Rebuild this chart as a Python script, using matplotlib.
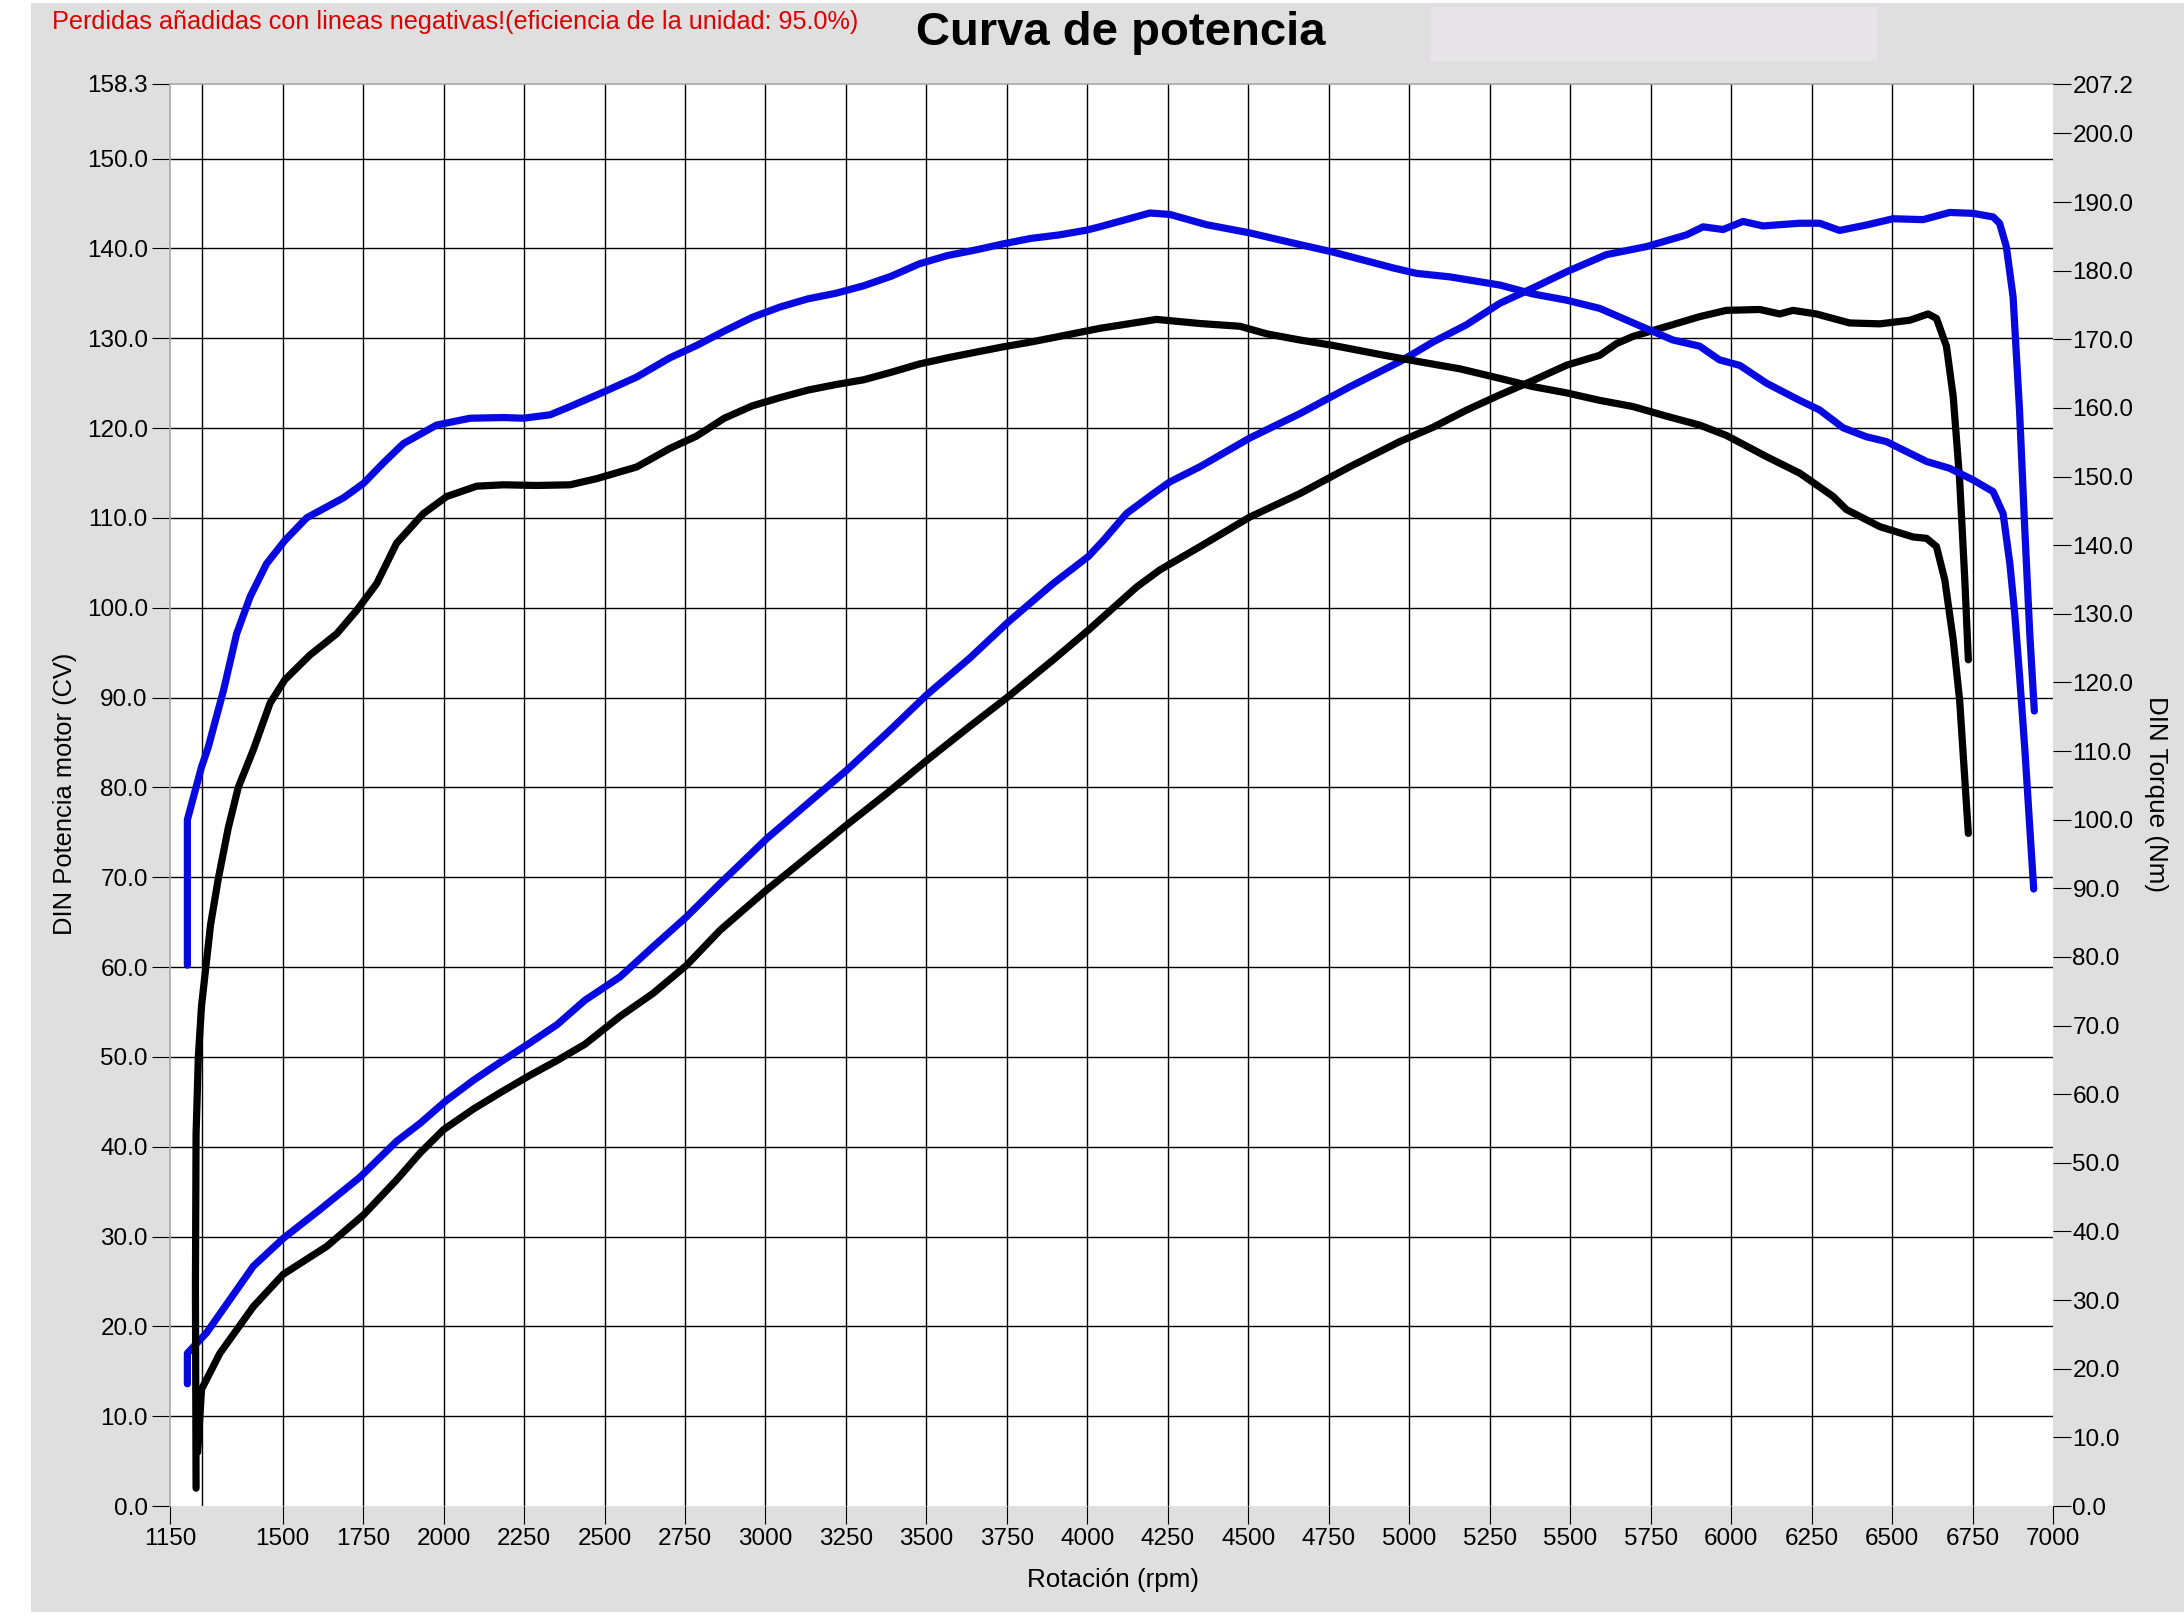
import matplotlib
matplotlib.use("Agg")
import matplotlib.pyplot as plt
from matplotlib.patches import Rectangle

plt.rcParams['font.family'] = ['Liberation Sans', 'DejaVu Sans']

# black run - torque (Nm)
rpm_tq_black = [1231, 1229, 1231, 1238, 1248, 1262, 1276, 1300, 1331, 1362, 1409, 1461, 1507, 1585,
                1668, 1730, 1792, 1854, 1937, 2010, 2103, 2186, 2289, 2393, 2476, 2600, 2703, 2786,
                2872, 2959, 3045, 3132, 3218, 3305, 3391, 3478, 3565, 3651, 3738, 3824, 3911, 4039,
                4215, 4350, 4474, 4557, 4660, 4764, 4919, 5023, 5157, 5282, 5385, 5488, 5592, 5695,
                5799, 5902, 5985, 6110, 6213, 6317, 6358, 6462, 6565, 6607, 6638, 6664, 6690, 6710,
                6737]
tq_black = [2.6, 31.9, 54.2, 65.4, 72.9, 78.8, 84.7, 91.4, 98.8, 104.7, 110.2, 117.0, 120.4, 124.0,
            127.1, 130.5, 134.4, 140.3, 144.6, 147.1, 148.6, 148.8, 148.7, 148.8, 149.7, 151.4, 154.1, 155.9,
            158.5, 160.3, 161.5, 162.6, 163.4, 164.1, 165.2, 166.4, 167.3, 168.1, 168.9, 169.6, 170.4, 171.6,
            172.9, 172.3, 171.9, 170.8, 169.9, 169.1, 167.7, 166.8, 165.7, 164.3, 163.1, 162.2, 161.1, 160.2,
            158.8, 157.5, 156.0, 152.9, 150.5, 147.1, 145.2, 142.7, 141.2, 141.0, 139.8, 134.9, 126.2, 117.4,
            98.0]

# black run - power (CV)
rpm_pw_black = [1236, 1248, 1305, 1409, 1502, 1637, 1751, 1854, 1927, 2000, 2093, 2180, 2266, 2353,
                2439, 2548, 2652, 2755, 2859, 3004, 3118, 3252, 3376, 3501, 3635, 3754, 3894, 4003,
                4153, 4225, 4350, 4505, 4660, 4816, 4971, 5075, 5178, 5282, 5385, 5489, 5592, 5644,
                5695, 5799, 5902, 5985, 6089, 6151, 6192, 6265, 6368, 6462, 6555, 6612, 6638, 6669,
                6690, 6710, 6726, 6737]
pw_black = [6.0, 13.0, 17.0, 22.2, 25.8, 28.9, 32.4, 36.3, 39.3, 41.9, 44.2, 46.1, 47.9, 49.6,
            51.4, 54.5, 57.1, 60.2, 64.1, 68.6, 71.9, 75.8, 79.3, 83.0, 86.8, 90.1, 94.2, 97.5,
            102.3, 104.2, 106.8, 110.1, 112.7, 115.7, 118.5, 120.1, 122.0, 123.7, 125.3, 127.0, 128.1, 129.4,
            130.2, 131.3, 132.4, 133.1, 133.2, 132.7, 133.1, 132.7, 131.7, 131.6, 132.0, 132.7, 132.2, 129.1,
            123.5, 114.2, 103.1, 94.2]

# blue run - torque (Nm)
rpm_tq_blue = [1204, 1204, 1248, 1269, 1316, 1357, 1399, 1450, 1507, 1575, 1689, 1751, 1813, 1875,
               1978, 2082, 2186, 2248, 2331, 2393, 2496, 2600, 2703, 2786, 2872, 2959, 3045, 3132,
               3218, 3305, 3391, 3478, 3565, 3651, 3738, 3824, 3911, 3997, 4039, 4194, 4256, 4370,
               4505, 4660, 4764, 4950, 5023, 5126, 5282, 5385, 5489, 5592, 5695, 5819, 5902, 5964,
               6027, 6110, 6213, 6275, 6348, 6420, 6482, 6607, 6679, 6752, 6814, 6845, 6866, 6881,
               6897, 6913, 6927, 6940]
tq_blue = [78.8, 100.0, 107.7, 110.6, 118.8, 127.1, 132.5, 137.3, 140.7, 144.0, 146.9, 149.0, 152.0, 154.8,
           157.5, 158.5, 158.6, 158.5, 159.0, 160.2, 162.3, 164.5, 167.3, 169.1, 171.2, 173.2, 174.7, 175.9,
           176.7, 177.8, 179.2, 181.0, 182.2, 183.0, 183.9, 184.7, 185.2, 185.9, 186.4, 188.4, 188.2, 186.7,
           185.5, 183.8, 182.7, 180.4, 179.6, 179.1, 177.9, 176.6, 175.7, 174.5, 172.4, 169.9, 169.0, 167.0,
           166.2, 163.6, 161.1, 159.7, 157.1, 155.8, 155.1, 152.2, 151.2, 149.5, 147.8, 144.6, 137.3, 130.1,
           120.4, 109.9, 99.5, 89.9]

# blue run - power (CV)
rpm_pw_blue = [1204, 1204, 1264, 1409, 1502, 1616, 1740, 1854, 1927, 2007, 2093, 2180, 2266, 2353,
               2439, 2548, 2652, 2755, 2859, 3004, 3118, 3252, 3376, 3501, 3635, 3754, 3894, 4003,
               4050, 4122, 4205, 4256, 4350, 4505, 4660, 4816, 4971, 5075, 5178, 5282, 5385, 5489,
               5612, 5737, 5861, 5913, 5975, 6037, 6099, 6213, 6275, 6337, 6420, 6503, 6596, 6679,
               6752, 6814, 6834, 6855, 6876, 6896, 6912, 6928, 6942]
pw_blue = [13.6, 17.0, 19.3, 26.7, 29.8, 33.0, 36.6, 40.6, 42.6, 45.1, 47.4, 49.5, 51.5, 53.6,
           56.3, 58.9, 62.3, 65.6, 69.3, 74.3, 77.8, 81.9, 86.0, 90.3, 94.4, 98.4, 102.7, 105.7,
           107.5, 110.5, 112.7, 114.0, 115.7, 118.9, 121.6, 124.6, 127.4, 129.6, 131.5, 133.9, 135.6, 137.4,
           139.3, 140.2, 141.5, 142.4, 142.1, 143.0, 142.5, 142.8, 142.8, 142.0, 142.6, 143.3, 143.2, 144.0,
           143.9, 143.5, 142.8, 140.2, 134.6, 122.0, 109.0, 97.0, 88.5]

x_ticks = [1150, 1500, 1750, 2000, 2250, 2500, 2750, 3000, 3250, 3500, 3750, 4000, 4250, 4500,
           4750, 5000, 5250, 5500, 5750, 6000, 6250, 6500, 6750, 7000]
x_grid = [1250] + list(range(1500, 7000, 250))
left_ticks = [0, 10, 20, 30, 40, 50, 60, 70, 80, 90, 100, 110, 120, 130, 140, 150, 158.3]
right_ticks = [0, 10, 20, 30, 40, 50, 60, 70, 80, 90, 100, 110, 120, 130, 140, 150, 160, 170,
               180, 190, 200, 207.2]

W, H = 2184, 1617
fig = plt.figure(figsize=(W / 100, H / 100), dpi=100, facecolor='white')
fig.patches.append(Rectangle((31 / W, 0.003), 1 - 31 / W, 0.995, transform=fig.transFigure,
                             facecolor='#dfdfdf', edgecolor='none', zorder=-2))
fig.patches.append(Rectangle((1430 / W, 1 - 61 / H), 448 / W, 54 / H, transform=fig.transFigure,
                             facecolor='#e6e4e6', edgecolor='none', zorder=-1))

ax = fig.add_axes([170 / W, (H - 1506) / H, 1883 / W, 1422 / H])
ax.set_facecolor('white')
ax.set_xlim(1150, 7000)
ax.set_ylim(0, 158.3)
ax.xaxis.remove_overlapping_locs = False
ax.yaxis.remove_overlapping_locs = False

ax.set_xticks(x_ticks)
ax.set_xticklabels([str(t) for t in x_ticks])
ax.set_xticks(x_grid, minor=True)
ax.set_yticks(left_ticks)
ax.set_yticklabels(['%.1f' % t for t in left_ticks])
ax.set_yticks(left_ticks[1:-1], minor=True)
ax.grid(False)
ax.grid(True, which='minor', color='black', linewidth=1.0)
ax.tick_params(which='minor', length=0)
ax.tick_params(which='major', direction='out', length=13, width=0.8, color='black',
               labelsize=17.5, pad=3)
for s in ['right', 'bottom']:
    ax.spines[s].set_visible(False)
for s in ['top', 'left']:
    ax.spines[s].set_color('#a8a8a8')
    ax.spines[s].set_linewidth(1.2)

ax2 = ax.twinx()
ax2.set_ylim(0, 207.2)
ax2.set_yticks(right_ticks)
ax2.set_yticklabels(['%.1f' % t for t in right_ticks])
ax2.tick_params(direction='out', length=13, width=0.8, color='black', labelsize=17.5, pad=1)
for s in ax2.spines.values():
    s.set_visible(False)

lw = 5.2
blue = '#0808e0'
ax.plot(rpm_pw_black, pw_black, color='black', lw=lw, solid_capstyle='round', solid_joinstyle='round')
ax2.plot(rpm_tq_black, tq_black, color='black', lw=lw, solid_capstyle='round', solid_joinstyle='round')
ax.plot(rpm_pw_blue, pw_blue, color=blue, lw=lw, solid_capstyle='round', solid_joinstyle='round')
ax2.plot(rpm_tq_blue, tq_blue, color=blue, lw=lw, solid_capstyle='round', solid_joinstyle='round')

fig.text(52 / W, 1 - 22 / H, 'Perdidas añadidas con lineas negativas!(eficiencia de la unidad: 95.0%)',
         color='#e00000', fontsize=18.2, ha='left', va='center')
fig.text(1121 / W, 1 - 33 / H, 'Curva de potencia', fontsize=34, fontweight='bold',
         ha='center', va='center')
fig.text(1113 / W, 1 - 1580 / H, 'Rotación (rpm)', fontsize=18.7, ha='center', va='center')
fig.text(65 / W, 1 - 794 / H, 'DIN Potencia motor (CV)', fontsize=18.4, rotation=90,
         ha='center', va='center')
fig.text(2156 / W, 1 - 794 / H, 'DIN Torque (Nm)', fontsize=18.7, rotation=270,
         ha='center', va='center')

fig.savefig('out.png', dpi=100, facecolor=fig.get_facecolor())
